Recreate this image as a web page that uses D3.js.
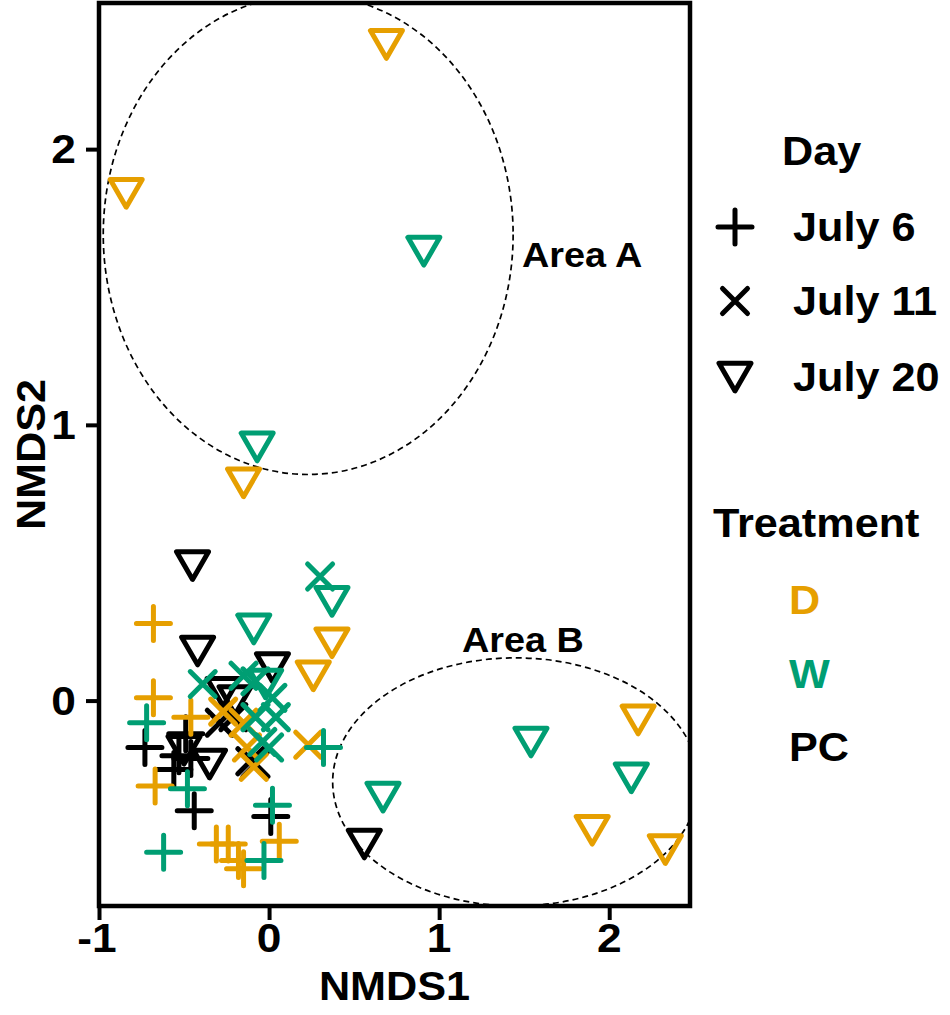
<!DOCTYPE html>
<html>
<head>
<meta charset="utf-8">
<script src="https://cdn.jsdelivr.net/npm/d3@7"></script>
<style>
  body { margin: 0; background: #fff; }
  text { font-family: "Liberation Sans", Arial, sans-serif; font-weight: bold; }
</style>
</head>
<body>
<div id="chart"></div>
<script>
// axis ticks
var xTicks = [-1, 0, 1, 2];
var yTicks = [0, 1, 2];

var days = ["July 6", "July 11", "July 20"];
var treatments = ["D", "W", "PC"];
var treatColors = ["#E69F00", "#009E73", "#000000"];

// D (dry) points, [NMDS1, NMDS2]
var dJuly6 = [[-0.68, 0.28], [-0.68, 0.01], [-0.46, -0.06], [-0.67, -0.31], [-0.31, -0.52],
              [-0.24, -0.52], [-0.18, -0.58], [-0.15, -0.61], [0.06, -0.51]];
var dJuly11 = [[0.23, -0.16], [-0.27, -0.04], [-0.15, -0.08], [-0.13, -0.17], [-0.09, -0.24]];
var dJuly20 = [[0.69, 2.38], [-0.84, 1.84], [-0.15, 0.79], [0.37, 0.21], [0.26, 0.09],
               [2.17, -0.07], [1.90, -0.47], [2.33, -0.54]];

// W points
var wJuly6 = [[-0.72, -0.08], [-0.48, -0.32], [-0.62, -0.55], [-0.03, -0.58], [0.02, -0.38], [0.32, -0.17]];
var wJuly11 = [[0.30, 0.45], [-0.39, 0.06], [-0.15, 0.09], [-0.08, 0.07], [0.02, 0.01],
               [0.04, -0.06], [-0.08, -0.06], [-0.04, -0.15], [0.0, -0.17]];
var wJuly20 = [[0.91, 1.63], [-0.07, 0.92], [-0.09, 0.26], [0.37, 0.36], [-0.02, 0.06],
               [1.54, -0.15], [2.13, -0.28], [0.67, -0.35]];

// PC points
var pcJuly6 = [[-0.73, -0.17], [-0.49, -0.12], [-0.53, -0.20], [-0.56, -0.25], [-0.46, -0.21],
               [-0.44, -0.40], [0.01, -0.42]];
var pcJuly11 = [[-0.11, -0.22], [-0.29, -0.08], [-0.08, -0.23], [-0.21, -0.06]];
var pcJuly20 = [[-0.45, 0.49], [-0.42, 0.18], [0.02, 0.12], [-0.27, 0.03], [-0.20, 0.0],
                [-0.50, -0.18], [-0.35, -0.23], [0.56, -0.52]];

// dashed ellipses: [cx, cy, rx, ry] in data units
var ellipseA = [0.23, 1.69, 1.205, 0.87];
var ellipseB = [1.45, -0.295, 1.076, 0.45];

var W = 950, H = 1015;
// plot box (note: "top" is taken by window.top, so use a prefix)
var pL = 99, pR = 690, pT = 3, pB = 906;

var x = d3.scaleLinear().domain([-1, 2.475]).range([pL, pR]);
var y = d3.scaleLinear().domain([-0.745, 2.53]).range([pB, pT]);

var svg = d3.select("#chart").append("svg").attr("width", W).attr("height", H);

// marker shapes, stroked
var shapes = {
  "July 6": "M-17,0H17M0,-17V17",
  "July 11": "M-12.5,-12.5L12.5,12.5M-12.5,12.5L12.5,-12.5",
  "July 20": "M-16,-13.8L16,-13.8L0,13.9Z"
};

function txt(g, str, tx, ty, size, anchor, color) {
  return g.append("text")
    .attr("transform", "translate(" + tx + "," + ty + ") scale(1.08,1)")
    .attr("text-anchor", anchor || "start")
    .style("font-size", size + "px")
    .style("fill", color || "#000")
    .text(str);
}

svg.append("clipPath").attr("id", "plotclip")
  .append("rect").attr("x", pL).attr("y", pT).attr("width", pR - pL).attr("height", pB - pT);

// ellipses
var ell = svg.append("g").attr("clip-path", "url(#plotclip)");
[ellipseA, ellipseB].forEach(function(e) {
  ell.append("ellipse")
    .attr("cx", x(e[0])).attr("cy", y(e[1]))
    .attr("rx", x(e[0] + e[2]) - x(e[0]))
    .attr("ry", y(e[1]) - y(e[1] + e[3]))
    .style("fill", "none").style("stroke", "#000")
    .style("stroke-width", 1.7).style("stroke-dasharray", "6,4");
});

// points, drawn PC then D then W
var groups = [
  [pcJuly6, 2, "July 6"], [pcJuly11, 2, "July 11"], [pcJuly20, 2, "July 20"],
  [dJuly6, 0, "July 6"], [dJuly11, 0, "July 11"], [dJuly20, 0, "July 20"],
  [wJuly6, 1, "July 6"], [wJuly11, 1, "July 11"], [wJuly20, 1, "July 20"]
];
var pts = svg.append("g");
groups.forEach(function(gr) {
  pts.selectAll(null).data(gr[0]).enter().append("path")
    .attr("d", shapes[gr[2]])
    .attr("transform", function(d) { return "translate(" + x(d[0]) + "," + y(d[1]) + ")"; })
    .style("fill", "none")
    .style("stroke", treatColors[gr[1]])
    .style("stroke-width", 5)
    .style("stroke-linecap", "round")
    .style("stroke-linejoin", "round");
});

// frame
svg.append("rect")
  .attr("x", pL).attr("y", pT).attr("width", pR - pL).attr("height", pB - pT)
  .style("fill", "none").style("stroke", "#000").style("stroke-width", 4.5);

// axes
var xAxis = svg.append("g").attr("transform", "translate(0," + pB + ")")
  .call(d3.axisBottom(x).tickValues(xTicks).tickSize(14).tickPadding(0).tickFormat(d3.format("d")));
var yAxis = svg.append("g").attr("transform", "translate(" + pL + ",0)")
  .call(d3.axisLeft(y).tickValues(yTicks).tickSize(13).tickPadding(0).tickFormat(d3.format("d")));
[xAxis, yAxis].forEach(function(a) {
  a.select(".domain").remove();
  a.selectAll(".tick line").style("stroke", "#000").style("stroke-width", 4);
  a.selectAll(".tick text").remove();
});
xTicks.forEach(function(t) { txt(svg, t, x(t) - (t < 0 ? 2 : 0), 952, 41, "middle"); });
yTicks.forEach(function(t) { txt(svg, t, 76, y(t) + 14, 41, "end"); });

// axis titles
txt(svg, "NMDS1", (pL + pR) / 2, 1000, 40, "middle");
svg.append("text")
  .attr("transform", "translate(45," + ((pT + pB) / 2) + ") rotate(-90) scale(1.08,1)")
  .attr("text-anchor", "middle").style("font-size", "40px").text("NMDS2");

// area labels
txt(svg, "Area A", 522, 267, 35);
txt(svg, "Area B", 462, 652, 35);

// legend: day
txt(svg, "Day", 782, 165, 40);
var legY = [227, 301, 377];
days.forEach(function(dname, i) {
  svg.append("path").attr("d", shapes[dname])
    .attr("transform", "translate(735," + legY[i] + ")")
    .style("fill", "none").style("stroke", "#000").style("stroke-width", 5)
    .style("stroke-linecap", "round").style("stroke-linejoin", "round");
  txt(svg, dname, 793, legY[i] + 14, 40);
});

// legend: treatment
txt(svg, "Treatment", 713, 537, 40);
var treatY = [614, 688, 761];
treatments.forEach(function(tn, i) {
  txt(svg, tn, 789, treatY[i], 40, "start", treatColors[i]);
});
</script>
</body>
</html>
